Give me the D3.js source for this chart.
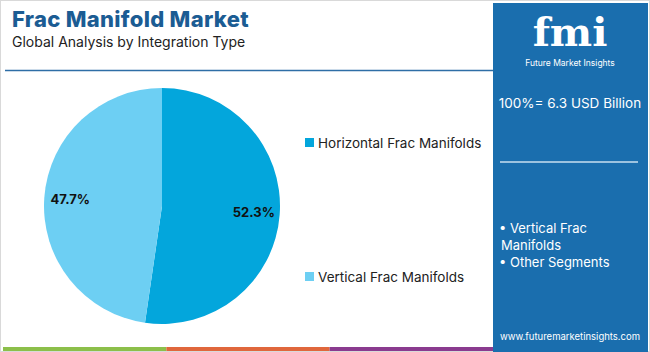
<!DOCTYPE html>
<html>
<head>
<meta charset="utf-8">
<script src="https://cdn.jsdelivr.net/npm/d3@7"></script>
<style>
  body { margin: 0; background: #fff; }
  svg { display: block; font-family: "Inter", "Open Sans", sans-serif; }
</style>
</head>
<body>
<div id="chart"></div>
<script>
/* Frac Manifold Market - pie by integration type */

const categories = ["Horizontal Frac Manifolds", "Vertical Frac Manifolds"];
const shares = [52.3, 47.7];
const colors = ["#03a6dc", "#6dcff3"];
const panelItems = ["• Vertical Frac", "Manifolds", "• Other Segments"];

const width = 650, height = 352;

const svg = d3.select("#chart")
    .append("svg")
    .attr("width", width)
    .attr("height", height)
    .attr("viewBox", [0, 0, width, height]);

// outer frame
svg.append("rect")
    .attr("x", 0.5).attr("y", 0.5)
    .attr("width", width - 1).attr("height", height - 1)
    .attr("fill", "#fff").attr("stroke", "#d9d9d9");

// header
svg.append("text")
    .attr("x", 12).attr("y", 27)
    .attr("font-size", 22).attr("font-weight", 800)
    .attr("letter-spacing", 0.3)
    .attr("fill", "#1b5c93")
    .text("Frac Manifold Market");

svg.append("text")
    .attr("x", 12).attr("y", 47)
    .attr("font-size", 14)
    .attr("fill", "#222")
    .text("Global Analysis by Integration Type");

svg.append("line")
    .attr("x1", 5).attr("x2", 493)
    .attr("y1", 70.5).attr("y2", 70.5)
    .attr("stroke", "#2e6ea6").attr("stroke-width", 1.5);

// pie
const cx = 162, cy = 206, r = 118;

const pie = d3.pie().sort(null).value(d => d);
const arcs = pie(shares);
const arc = d3.arc().innerRadius(0).outerRadius(r);
const labelArc = d3.arc().innerRadius(r * 0.78).outerRadius(r * 0.78);

const g = svg.append("g").attr("transform", `translate(${cx},${cy})`);

g.selectAll("path")
    .data(arcs)
    .join("path")
    .attr("d", arc)
    .attr("fill", (d, i) => colors[i]);

g.selectAll("text")
    .data(arcs)
    .join("text")
    .attr("transform", d => `translate(${labelArc.centroid(d)})`)
    .attr("text-anchor", "middle")
    .attr("dy", "0.35em")
    .attr("font-size", 13)
    .attr("font-weight", 700)
    .attr("fill", "#111")
    .text(d => d.data + "%");

// legend
const legendY = d3.scalePoint()
    .domain(categories)
    .range([143, 277]);

const legend = svg.append("g")
    .selectAll("g")
    .data(categories)
    .join("g")
    .attr("transform", d => `translate(305,${legendY(d)})`);

legend.append("rect")
    .attr("x", 0).attr("y", -5)
    .attr("width", 9).attr("height", 9)
    .attr("fill", (d, i) => colors[i]);

legend.append("text")
    .attr("x", 13).attr("dy", "0.35em")
    .attr("font-size", 13.5)
    .attr("fill", "#222")
    .text(d => d);

// right panel
svg.append("rect")
    .attr("x", 493).attr("y", 3)
    .attr("width", 155).attr("height", 349)
    .attr("fill", "#1a6eae");

svg.append("text")
    .attr("x", 570).attr("y", 46)
    .attr("text-anchor", "middle")
    .attr("font-family", "DejaVu Serif, serif")
    .attr("font-size", 40).attr("font-weight", 700)
    .attr("fill", "#fff")
    .text("fmi");

svg.append("text")
    .attr("x", 570).attr("y", 66)
    .attr("text-anchor", "middle")
    .attr("font-size", 8.5)
    .attr("fill", "#fff")
    .text("Future Market Insights");

svg.append("text")
    .attr("x", 570).attr("y", 108)
    .attr("text-anchor", "middle")
    .attr("font-size", 13.5)
    .attr("fill", "#fff")
    .text("100%= 6.3 USD Billion");

svg.append("line")
    .attr("x1", 500).attr("x2", 638)
    .attr("y1", 162).attr("y2", 162)
    .attr("stroke", "#9cc3e0").attr("stroke-width", 2);

svg.append("g")
    .selectAll("text")
    .data(panelItems)
    .join("text")
    .attr("x", (d, i) => i === 1 ? 501 : 499)
    .attr("y", (d, i) => 233 + i * 17)
    .attr("font-size", 13)
    .attr("fill", "#fff")
    .text(d => d);

svg.append("text")
    .attr("x", 570).attr("y", 340)
    .attr("text-anchor", "middle")
    .attr("font-size", 9.5)
    .attr("fill", "#fff")
    .text("www.futuremarketinsights.com");

// bottom stripes
const stripes = ["#8cbf4a", "#e0673c", "#8a3b8f"];
const sx = d3.scaleBand().domain(d3.range(stripes.length)).range([3, 493]);
svg.append("g")
    .selectAll("rect")
    .data(stripes)
    .join("rect")
    .attr("x", (d, i) => sx(i))
    .attr("y", 347)
    .attr("width", sx.bandwidth())
    .attr("height", 4)
    .attr("fill", d => d);
</script>
</body>
</html>
